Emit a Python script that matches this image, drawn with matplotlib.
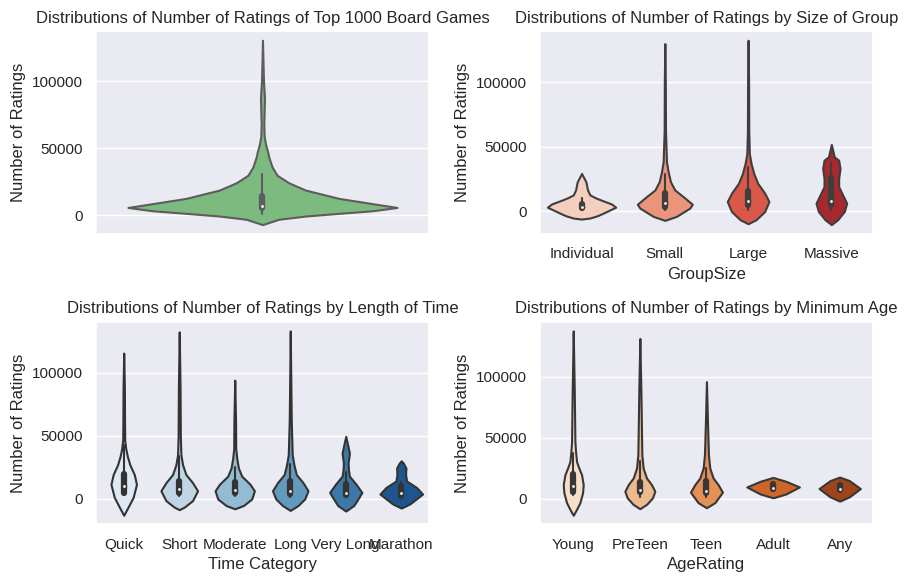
import colorsys
import numpy as np
import matplotlib
matplotlib.use("Agg")
import matplotlib.pyplot as plt
from matplotlib.ticker import MultipleLocator
import seaborn as sns

# --------------------------------------------------
# Violin shapes
# y = number of ratings, w = half width of the violin (category units)
# box = [whisker low, q1, median, q3, whisker high]
# --------------------------------------------------

# all top 1000 games
all_y = [-6900, -2900, -500, 1500, 3400, 5900, 8800, 12700, 18900, 24300, 29900,
         36000, 43400, 47000, 53200, 59300, 68000, 87700, 100000, 130700]
all_w = [0, 0.049, 0.129, 0.229, 0.329, 0.404, 0.329, 0.229, 0.129, 0.079, 0.044,
         0.029, 0.019, 0.016, 0.009, 0.005, 0.004, 0.006, 0.003, 0]
all_box = [1000, 5600, 7350, 14700, 31000]

# group size
group_levels = ["Individual", "Small", "Large", "Massive"]
group_y = [
    [-5900, -5100, -3300, -1300, 3300, 5800, 8200, 10500, 12800, 16600, 23000, 29400],
    [-6900, -3800, 2600, 5600, 11500, 16600, 23000, 30700, 38400, 62600, 100800, 130000],
    [-9500, -6400, 0, 7700, 14100, 21800, 29400, 37100, 44800, 62600, 100800, 132600],
    [-10200, -6400, 0, 6400, 12800, 19200, 25600, 33300, 39700, 42300, 51900],
]
group_w = [
    [0, 0.10, 0.19, 0.26, 0.41, 0.36, 0.26, 0.17, 0.10, 0.072, 0.052, 0],
    [0, 0.14, 0.30, 0.33, 0.22, 0.12, 0.068, 0.04, 0.02, 0.008, 0.006, 0],
    [0, 0.096, 0.20, 0.25, 0.20, 0.116, 0.068, 0.036, 0.015, 0.008, 0.006, 0],
    [0, 0.076, 0.156, 0.184, 0.136, 0.088, 0.088, 0.104, 0.088, 0.035, 0],
]
group_box = [
    [1500, 2800, 3800, 5900, 10700],
    [1000, 3600, 6400, 14300, 28800],
    [1000, 4900, 8400, 16100, 34500],
    [1500, 4900, 8400, 25900, 37900],
]

# length of time
time_levels = ["Quick", "Short", "Moderate", "Long", "Very Long", "Marathon"]
time_y = [
    [-12950, -6500, 1300, 11650, 19400, 27200, 33700, 40100, 46600, 62200, 88100, 115800],
    [-8500, -6500, -1300, 6500, 12950, 19400, 27200, 35000, 49200, 88100, 132600],
    [-7800, -5200, 0, 6500, 11650, 18100, 24600, 32400, 40100, 62200, 94300],
    [-9100, -5200, 0, 6500, 12950, 19400, 27200, 35000, 62200, 133400],
    [-9600, -5200, 0, 5200, 11650, 18100, 23300, 28500, 36300, 42700, 49700],
    [-7250, -3900, 3900, 9100, 14250, 19400, 24600, 28500, 30300],
]
time_w = [
    [0, 0.078, 0.17, 0.23, 0.19, 0.11, 0.066, 0.036, 0.018, 0.015, 0.012, 0],
    [0, 0.09, 0.24, 0.33, 0.24, 0.12, 0.06, 0.03, 0.02, 0.015, 0],
    [0, 0.156, 0.306, 0.354, 0.276, 0.126, 0.066, 0.036, 0.018, 0.015, 0],
    [0, 0.14, 0.26, 0.32, 0.23, 0.11, 0.066, 0.036, 0.018, 0],
    [0, 0.144, 0.22, 0.29, 0.186, 0.066, 0.048, 0.042, 0.066, 0.036, 0],
    [0, 0.156, 0.384, 0.276, 0.096, 0.078, 0.084, 0.036, 0],
]
time_box = [
    [3000, 4900, 10400, 19700, 43000],
    [2000, 4900, 7800, 14500, 34200],
    [2000, 5000, 7000, 13200, 25100],
    [1500, 4100, 6500, 14500, 27700],
    [1500, 3000, 4400, 11500, 21200],
    [1000, 2500, 4400, 10600, 13500],
]

# minimum age
age_levels = ["Young", "PreTeen", "Teen", "Adult", "Any"]
age_y = [
    [-13500, -8600, -3200, 4900, 11600, 19700, 25100, 30500, 38600, 46700, 90600, 137500],
    [-8100, -4600, 800, 6200, 11600, 17000, 25100, 35900, 90600, 131300],
    [-7300, -3200, 5400, 11600, 17000, 25100, 35900, 63800, 95900],
    [800, 4000, 9700, 14300, 17500],
    [-1900, 1600, 8400, 14900, 17800],
]
age_w = [
    [0, 0.05, 0.10, 0.14, 0.15, 0.125, 0.085, 0.05, 0.035, 0.025, 0.015, 0],
    [0, 0.10, 0.19, 0.225, 0.175, 0.10, 0.05, 0.03, 0.015, 0],
    [0, 0.125, 0.24, 0.175, 0.10, 0.05, 0.03, 0.015, 0],
    [0, 0.195, 0.395, 0.195, 0],
    [0, 0.145, 0.31, 0.145, 0],
]
age_box = [
    [3000, 5900, 10300, 20000, 37500],
    [1500, 5400, 7000, 14000, 30800],
    [1500, 4600, 6200, 14600, 25500],
    [6500, 7800, 8900, 12400, 13500],
    [5500, 6800, 8400, 11000, 12000],
]


# --------------------------------------------------
# Helpers
# --------------------------------------------------
def palette(name, n):
    cols = sns.color_palette(name, n, desat=0.75)
    lum = min(colorsys.rgb_to_hls(*c)[1] for c in cols) * 0.6
    return cols, (lum, lum, lum)


def draw_violins(ax, ys, ws, boxes, cols, line):
    stats = []
    for y, w, b in zip(ys, ws, boxes):
        stats.append({"coords": np.array(y, float), "vals": np.array(w, float),
                      "mean": b[2], "median": b[2], "min": min(y), "max": max(y)})
    pos = list(range(len(ys)))
    widths = [2 * max(w) for w in ws]
    parts = ax.violin(stats, positions=pos, widths=widths, showmeans=False,
                      showextrema=False, showmedians=False)
    for body, c in zip(parts["bodies"], cols):
        body.set_facecolor(c)
        body.set_edgecolor(line)
        body.set_linewidth(1.5)
        body.set_joinstyle("round")
        body.set_alpha(1)
    for p, b in zip(pos, boxes):
        ax.plot([p, p], [b[0], b[4]], color=line, lw=1.5, solid_capstyle="round")
        ax.plot([p, p], [b[1], b[3]], color=line, lw=4.5, solid_capstyle="round")
        ax.scatter(p, b[2], zorder=3, color="white", edgecolor=line, s=9)
    ax.set_xlim(-0.5, len(ys) - 0.5)
    ax.xaxis.grid(False)
    ax.yaxis.set_major_locator(MultipleLocator(50000))
    ax.set_ylabel("Number of Ratings")


# --------------------------------------------------
# Figure
# --------------------------------------------------
sns.set_theme(style="darkgrid")
plt.rcParams["font.family"] = ["Liberation Sans", "DejaVu Sans"]

fig, axes = plt.subplots(2, 2, figsize=(9.07, 5.84), dpi=100)
fig.subplots_adjust(left=0.1058, right=0.9625, top=0.9469, bottom=0.1019,
                    wspace=0.333, hspace=0.433)

cols, line = palette("Greens", 1)
ax = axes[0, 0]
draw_violins(ax, [all_y], [all_w], [all_box], cols, line)
ax.set_xticks([])
ax.set_title("Distributions of Number of Ratings of Top 1000 Board Games")

cols, line = palette("Reds", len(group_levels))
ax = axes[0, 1]
draw_violins(ax, group_y, group_w, group_box, cols, line)
ax.set_xticks(range(len(group_levels)), group_levels)
ax.set_xlabel("GroupSize")
ax.set_title("Distributions of Number of Ratings by Size of Group")

cols, line = palette("Blues", len(time_levels))
ax = axes[1, 0]
draw_violins(ax, time_y, time_w, time_box, cols, line)
ax.set_xticks(range(len(time_levels)), time_levels)
ax.set_xlabel("Time Category")
ax.set_title("Distributions of Number of Ratings by Length of Time")

cols, line = palette("Oranges", len(age_levels))
ax = axes[1, 1]
draw_violins(ax, age_y, age_w, age_box, cols, line)
ax.set_xticks(range(len(age_levels)), age_levels)
ax.set_xlabel("AgeRating")
ax.set_title("Distributions of Number of Ratings by Minimum Age")

fig.savefig("out.png", dpi=100)
